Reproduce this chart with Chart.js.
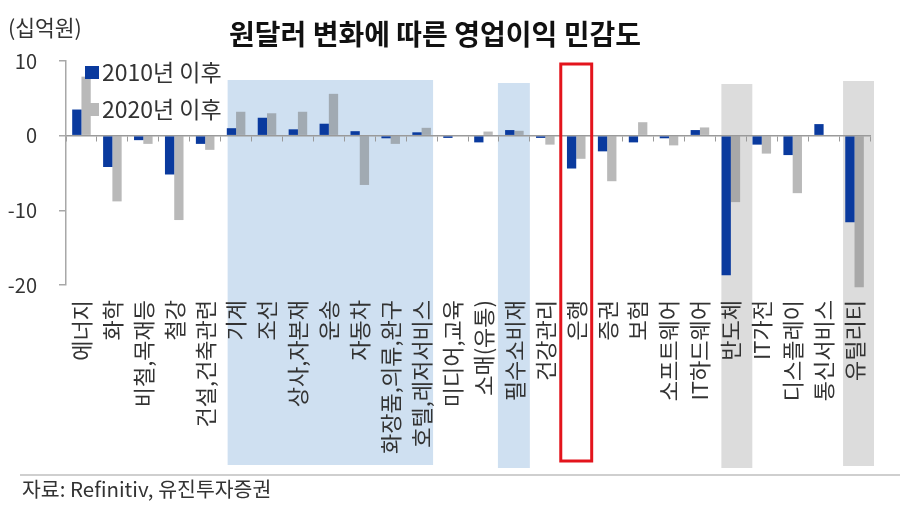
<!DOCTYPE html>
<html><head><meta charset="utf-8">
<script src="https://cdn.jsdelivr.net/npm/chart.js@4.4.0/dist/chart.umd.min.js"></script>
<style>
body{margin:0;background:#fff;}
#wrap{position:relative;width:900px;height:515px;font-family:"Noto Sans CJK KR","Noto Sans",sans-serif;color:#333;overflow:hidden;}
canvas{position:absolute;left:0;top:0;}
.t{position:absolute;white-space:nowrap;line-height:1;}
.mk{position:absolute;width:14px;height:13px;}
</style></head><body>
<div id="wrap">
<canvas id="c" width="900" height="515"></canvas>
<div class="t" style="left:8px;top:16px;font-size:21.5px;">(십억원)</div>
<div id="legend"></div>
<div style="position:absolute;left:20px;right:0;top:474px;height:2px;background:#cfcfcf"></div>
<div class="t" style="left:22px;top:478px;font-size:20.5px;">자료: Refinitiv, 유진투자증권</div>
</div>
<script>
const categories = ['에너지','화학','비철,목재등','철강','건설,건축관련','기계','조선','상사,자본재','운송','자동차','화장품,의류,완구','호텔,레저서비스','미디어,교육','소매(유통)','필수소비재','건강관리','은행','증권','보험','소프트웨어','IT하드웨어','반도체','IT가전','디스플레이','통신서비스','유틸리티'];
const since2010 = [3.5,-4.2,-0.6,-5.2,-1.1,1.0,2.4,0.85,1.6,0.6,-0.35,0.45,-0.3,-0.9,0.75,-0.3,-4.4,-2.1,-0.9,-0.35,0.75,-18.7,-1.2,-2.6,1.55,-11.6];
const since2020 = [7.9,-8.8,-1.1,-11.3,-1.9,3.2,3.0,3.2,5.6,-6.6,-1.1,1.05,0.1,0.55,0.65,-1.2,-3.1,-6.1,1.8,-1.3,1.1,-8.9,-2.4,-7.7,0.1,-20.3];
const seriesNames = ['2010년 이후','2020년 이후'];
const yTicks = [10,0,-10,-20];
const titleText = '원달러 변화에 따른 영업이익 민감도';

const barColors = ['#0a3a9e','rgba(115,115,115,0.5)'];
const legendColors = ['#0a3a9e','#b9b9b9'];
const FONT = '"Noto Sans CJK KR","Noto Sans",sans-serif';

// highlight decorations (category index ranges + pixel tweaks)
const highlightBoxes = [
  {from:5, to:11, fill:'#cfe0f1', dl:7, dr:-4, top:80, bottom:465},
  {from:14, to:14, fill:'#cfe0f1', dl:-1, dr:0, top:83, bottom:468},
  {from:21, to:21, fill:'#dcdcdc', dl:6, dr:6, top:84, bottom:468},
  {from:25, to:25, fill:'#dcdcdc', dl:4, dr:4, top:81, bottom:466}
];
const redBox = {from:16, to:16, dl:0, dr:0, top:64, bottom:461, color:'#e3141c', lw:3};

// legend (HTML)
const lg = document.getElementById('legend');
const legendRows = [73, 110];
seriesNames.forEach((n,i)=>{
  const m = document.createElement('div');
  m.className='mk'; m.style.left='85px'; m.style.top=(legendRows[i]-7)+'px'; m.style.background=legendColors[i];
  lg.appendChild(m);
  const t = document.createElement('div');
  t.className='t'; t.style.left='102px'; t.style.top=(legendRows[i]-13)+'px'; t.style.fontSize='23px';
  t.textContent=n; lg.appendChild(t);
});

function catEdges(chart, b){
  const xs = chart.scales.x;
  const w = xs.width / categories.length;
  return [xs.getPixelForValue(b.from) - w/2 + b.dl, xs.getPixelForValue(b.to) + w/2 + b.dr];
}
const boxPlugin = {
  id:'boxes',
  beforeDraw(chart){
    const ctx = chart.ctx; ctx.save();
    highlightBoxes.forEach(b=>{
      const [l,r] = catEdges(chart,b);
      ctx.fillStyle=b.fill; ctx.fillRect(l,b.top,r-l,b.bottom-b.top);
    });
    ctx.restore();
  },
  afterDraw(chart){
    const ctx = chart.ctx; ctx.save();
    const [l,r] = catEdges(chart,redBox);
    ctx.strokeStyle=redBox.color; ctx.lineWidth=redBox.lw;
    ctx.strokeRect(l,redBox.top,r-l,redBox.bottom-redBox.top);
    ctx.restore();
  }
};

new Chart(document.getElementById('c'), {
  type:'bar',
  data:{
    labels:categories,
    datasets:[
      {label:seriesNames[0], data:since2010, backgroundColor:barColors[0], clip:false},
      {label:seriesNames[1], data:since2020, backgroundColor:barColors[1], clip:false}
    ]
  },
  options:{
    responsive:false, animation:false,
    layout:{padding:{left:0,right:30,top:0,bottom:0}},
    datasets:{bar:{categoryPercentage:0.6, barPercentage:1.0}},
    plugins:{
      legend:{display:false}, tooltip:{enabled:false},
      title:{display:true, text:titleText, color:'#111',
        font:{family:FONT,size:28,weight:'bold'}, padding:{top:18,bottom:9.4}}
    },
    scales:{
      x:{
        type:'category', position:'bottom',
        grid:{display:false, drawTicks:false}, border:{display:false},
        ticks:{autoSkip:false, maxRotation:90, minRotation:90, padding:15, color:'#333', font:{family:FONT,size:22}},
        afterFit(s){ s.height = 230; }
      },
      x2:{
        type:'category', position:{y:0}, offset:true,
        grid:{display:true, drawOnChartArea:false, offset:true, tickLength:5, color:'#9a9a9a', lineWidth:1},
        border:{display:true, color:'#9a9a9a', width:1.5},
        ticks:{display:false}
      },
      y:{
        min:-20, max:10,
        afterBuildTicks(s){ s.ticks = yTicks.map(v=>({value:v})); },
        grid:{drawOnChartArea:false, tickLength:7, color:'#a8a8a8', lineWidth:1.5},
        border:{display:true, color:'#a8a8a8', width:1.5},
        ticks:{padding:22, color:'#333', font:{family:FONT,size:20}},
        afterFit(s){ s.width = 66; }
      }
    }
  },
  plugins:[boxPlugin]
});
</script>
</body></html>
